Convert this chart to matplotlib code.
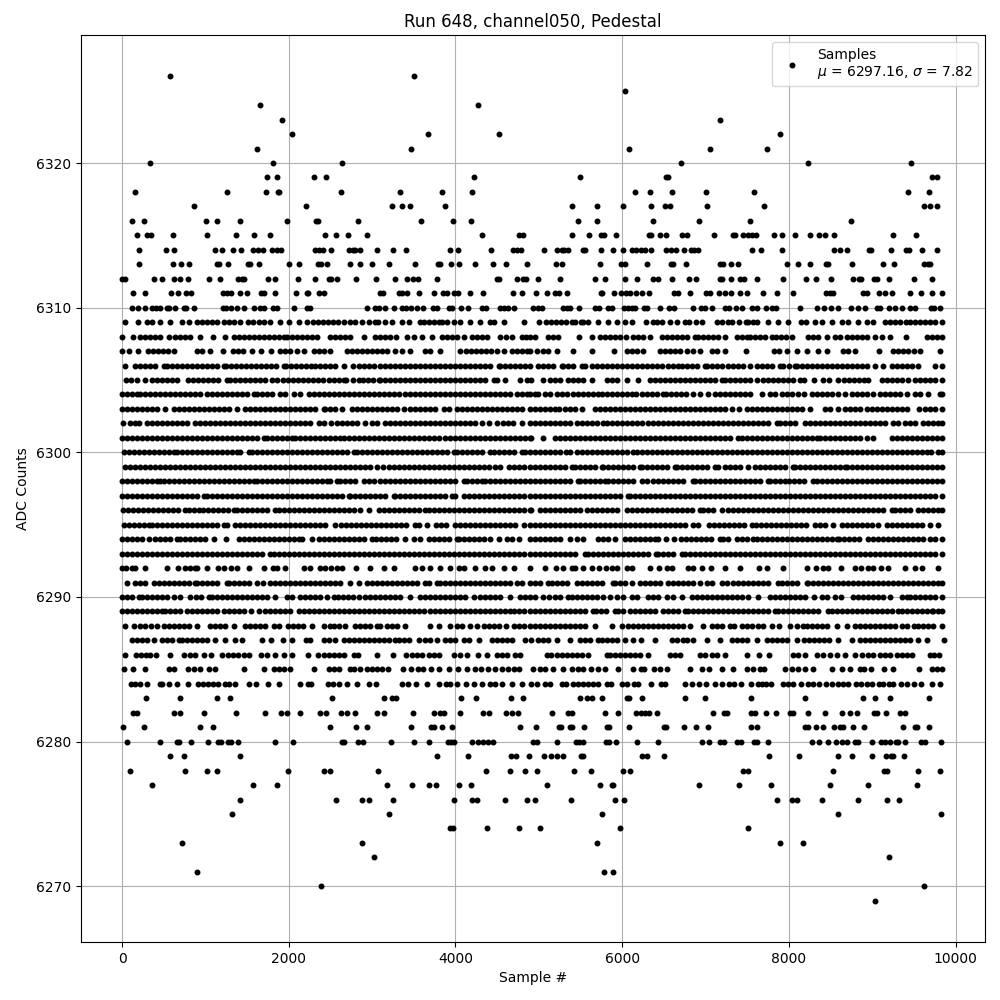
import matplotlib
matplotlib.use('Agg')
import matplotlib.pyplot as plt

# sample numbers seen at each ADC count
s6326 = [572, 3500]
s6325 = [6036]
s6324 = [1652, 4268]
s6323 = [1916, 7176]
s6322 = [2036, 3668, 4520, 7896]
s6321 = [1616, 3464, 6084, 7056, 7740]
s6320 = [332, 1808, 2636, 6708, 8232, 9468]
s6319 = [1736, 1856, 2300, 2444, 4220, 5496, 6528, 6552, 9720, 9780]
s6318 = [152, 1256, 1724, 1868, 1884, 2624, 3332, 3836, 4196, 6156, 6336, 6600, 7008, 7584, 9432, 9684]
s6317 = [860, 2204, 3236, 3356, 3452, 3872, 5400, 5700, 6012, 6348, 6516, 6576, 7020, 7704, 9624, 9696, 9780]
s6316 = [116, 260, 1004, 1136, 1412, 1976, 2324, 2348, 2828, 3584, 3968, 4184, 5472, 5700, 6372, 6924, 7536, 8748]
s6315 = [176, 296, 344, 608, 1016, 1364, 1580, 1772, 2432, 2564, 2708, 2936, 4316, 4760, 4808, 5400, 5604, 5748,
         5784, 5928, 6324, 6348, 6456, 6528, 6720, 6780, 7104, 7332, 7356, 7452, 7512, 7560, 7608, 7824, 7920, 8076,
         8256, 8364, 8432, 8544, 9252, 9528]
s6314 = [200, 524, 620, 1112, 1196, 1328, 1424, 1568, 1628, 1688, 1796, 1856, 1904, 2312, 2360, 2408, 2504, 2720,
         2768, 2792, 2852, 3056, 3248, 3404, 3932, 4028, 4424, 4688, 4736, 4784, 5064, 5220, 5280, 5304, 5352, 5532,
         5556, 5748, 5892, 6012, 6120, 6168, 6228, 6276, 6348, 6528, 6588, 6648, 6744, 6828, 6864, 6912, 7560, 7668,
         7920, 8544, 8616, 8700, 8964, 8988, 9228, 9408, 9444, 9600, 9780]
s6313 = [200, 608, 704, 800, 1136, 1160, 1268, 1508, 1532, 1640, 2000, 2120, 2348, 2384, 2456, 2732, 2852, 2996,
         3200, 3512, 3788, 3812, 3944, 4040, 4232, 4448, 4604, 4856, 5208, 5280, 5736, 5988, 6036, 6300, 6588, 6612,
         6768, 7176, 7212, 7308, 7392, 7980, 8112, 8256, 8448, 8472, 8760, 9132, 9264, 9624, 9672, 9696]
s6312 = [0, 36, 380, 476, 620, 692, 788, 1040, 1172, 1388, 1436, 1460, 1748, 1832, 2108, 2312, 2480, 2504, 2576,
         2804, 3044, 3272, 3416, 3488, 3548, 3776, 4496, 4520, 4736, 4808, 4844, 4992, 5256, 5676, 5796, 6036, 6180,
         6372, 6432, 6600, 6804, 6888, 7176, 7200, 7308, 7416, 7464, 7620, 7932, 8208, 8328, 8508, 8772, 8844, 8868,
         9024, 9060, 9204, 9504, 9720]
s6311 = [128, 272, 584, 668, 764, 824, 1208, 1256, 1304, 1412, 1496, 1664, 1700, 1832, 2084, 2216, 2228, 2360,
         2420, 3092, 3128, 3320, 3356, 3416, 3560, 3740, 3848, 3900, 3980, 4028, 4172, 4328, 4688, 4796, 4968, 5100,
         5196, 5244, 5340, 5748, 5760, 5904, 5988, 6048, 6096, 6168, 6240, 6324, 6624, 6672, 6816, 7008, 7056, 7164,
         7236, 7308, 7416, 7500, 7692, 7860, 8052, 8448, 8496, 8532, 8892, 8940, 9084, 9156, 9240, 9456, 9588, 9720,
         9840]
s6310 = [116, 188, 272, 356, 404, 452, 536, 560, 632, 740, 764, 860, 1208, 1244, 1304, 1376, 1460, 1580, 1652, 1700,
         1808, 1856, 2060, 2216, 2252, 2936, 3032, 3080, 3152, 3260, 3356, 3404, 3464, 3536, 3608, 3728, 3776, 3920,
         3956, 4064, 4148, 4316, 4364, 4532, 4580, 4628, 4700, 4932, 4992, 5040, 5292, 5340, 5376, 5484, 5676, 5724,
         5832, 5880, 6024, 6072, 6120, 6156, 6264, 6300, 6456, 6564, 6624, 6852, 6948, 6996, 7080, 7236, 7284, 7368,
         7440, 7560, 7620, 7728, 7800, 7848, 8136, 8340, 8424, 8508, 8592, 8748, 8832, 8916, 9060, 9096, 9204, 9276,
         9360, 9456, 9516, 9708, 9744, 9816]
s6309 = [40, 188, 300, 360, 460, 580, 720, 800, 900, 960, 1020, 1080, 1140, 1220, 1280, 1340, 1420, 1508, 1570, 1640,
         1700, 1780, 1900, 2004, 2120, 2220, 2288, 2350, 2410, 2470, 2530, 2590, 2660, 2740, 2800, 2880, 2960, 3040,
         3068, 3160, 3240, 3360, 3448, 3580, 3620, 3680, 3740, 3800, 3840, 3900, 3980, 4060, 4180, 4300, 4420, 4460,
         4580, 4820, 5000, 5080, 5140, 5200, 5260, 5320, 5392, 5432, 5500, 5532, 5592, 5704, 5832, 5932, 6032, 6112,
         6284, 6364, 6420, 6480, 6572, 6652, 6752, 6804, 6880, 6952, 7132, 7200, 7272, 7320, 7400, 7480, 7512, 7564,
         7612, 7752, 7872, 7992, 8140, 8200, 8312, 8392, 8512, 8632, 8712, 8832, 8932, 9012, 9152, 9210, 9270, 9330,
         9400, 9452, 9512, 9570, 9630, 9690, 9750, 9840]
s6308 = [0, 128, 220, 280, 340, 400, 460, 560, 640, 700, 760, 820, 940, 1088, 1240, 1340, 1400, 1460, 1520, 1580, 1640,
         1700, 1760, 1820, 1880, 1940, 1980, 2040, 2100, 2160, 2220, 2280, 2340, 2500, 2560, 2620, 2680, 2740, 2900,
         3040, 3100, 3160, 3220, 3292, 3420, 3500, 3600, 3720, 3840, 3900, 3960, 4020, 4100, 4200, 4260, 4320, 4380,
         4540, 4610, 4680, 4800, 4850, 4900, 4952, 5112, 5172, 5232, 5480, 5632, 5732, 5792, 5852, 5912, 5972, 6044,
         6132, 6192, 6252, 6332, 6472, 6532, 6592, 6652, 6712, 6772, 6872, 6912, 6972, 7032, 7092, 7152, 7232, 7380,
         7440, 7492, 7532, 7592, 7652, 7712, 7792, 7844, 7904, 7964, 8032, 8232, 8292, 8352, 8452, 8552, 8612, 8692,
         8752, 8812, 8872, 8932, 9032, 9112, 9212, 9400, 9652, 9712, 9772, 9840]
s6307 = [0, 80, 188, 308, 368, 428, 488, 548, 620, 900, 960, 1060, 1212, 1332, 1392, 1452, 1560, 1668, 1788, 1892,
         1952, 2012, 2100, 2180, 2308, 2368, 2428, 2500, 2700, 2760, 2820, 2880, 2940, 3000, 3060, 3120, 3180, 3280,
         3360, 3460, 3640, 3700, 3820, 4060, 4132, 4192, 4252, 4312, 4372, 4432, 4500, 4580, 4680, 4740, 4800, 4860,
         4900, 4980, 5052, 5112, 5212, 5412, 5640, 5904, 6052, 6112, 6172, 6252, 6452, 6512, 6572, 6632, 6692, 6772,
         6852, 6932, 7072, 7132, 7232, 7480, 7824, 7884, 7972, 8092, 8220, 8352, 8452, 8652, 8712, 8792, 9080, 9252,
         9312, 9372, 9432, 9500, 9572, 9812]
s6306 = [40, 160, 220, 280, 340, 400, 500, 540, 600, 660, 720, 780, 840, 900, 960, 1020, 1080, 1140, 1220, 1252, 1312,
         1372, 1432, 1492, 1552, 1612, 1672, 1732, 1792, 1852, 1940, 1972, 2032, 2092, 2152, 2212, 2272, 2320, 2380,
         2440, 2500, 2560, 2668, 2768, 2840, 2900, 2960, 3020, 3100, 3160, 3220, 3280, 3340, 3400, 3460, 3520, 3580,
         3640, 3700, 3760, 3820, 3880, 3940, 4000, 4060, 4120, 4180, 4240, 4300, 4360, 4420, 4520, 4540, 4600, 4660,
         4720, 4780, 4840, 4900, 4992, 5052, 5112, 5172, 5272, 5292, 5352, 5412, 5512, 5552, 5632, 5692, 5752, 5812,
         5872, 5932, 5992, 6052, 6112, 6172, 6232, 6292, 6352, 6412, 6472, 6552, 6612, 6672, 6712, 6772, 6832, 6892,
         6992, 7020, 7080, 7140, 7200, 7272, 7324, 7384, 7444, 7532, 7612, 7672, 7732, 7792, 7892, 7932, 8000, 8072,
         8092, 8152, 8212, 8272, 8332, 8392, 8452, 8512, 8572, 8632, 8692, 8752, 8812, 8872, 8932, 9032, 9132, 9232,
         9292, 9352, 9412, 9472, 9552, 9752, 9840]
s6305 = [52, 110, 180, 280, 360, 420, 480, 540, 600, 660, 788, 848, 908, 968, 1028, 1088, 1148, 1260, 1300, 1360, 1420,
         1480, 1540, 1600, 1660, 1720, 1800, 1860, 1928, 1988, 2048, 2108, 2168, 2228, 2288, 2348, 2408, 2480, 2540,
         2600, 2660, 2692, 2772, 2840, 2888, 2948, 3008, 3080, 3100, 3160, 3220, 3280, 3340, 3400, 3460, 3520, 3580,
         3640, 3700, 3760, 3820, 3880, 3940, 4000, 4060, 4120, 4180, 4240, 4300, 4360, 4460, 4500, 4600, 4772, 4860,
         4912, 5044, 5132, 5192, 5252, 5352, 5412, 5472, 5532, 5632, 5812, 5872, 5932, 6060, 6192, 6332, 6392, 6452,
         6512, 6572, 6632, 6692, 6752, 6812, 6872, 6932, 6992, 7052, 7112, 7192, 7232, 7292, 7352, 7412, 7472, 7532,
         7612, 7692, 7752, 7812, 7872, 7932, 7992, 8052, 8132, 8180, 8300, 8412, 8484, 8592, 8664, 8724, 8784, 8844,
         8904, 8952, 9112, 9172, 9232, 9292, 9352, 9432, 9512, 9572, 9632, 9692, 9752, 9832]
s6304 = [0, 60, 120, 180, 220, 280, 340, 400, 460, 520, 580, 640, 700, 760, 820, 880, 940, 1020, 1080, 1140, 1200, 1260,
         1320, 1380, 1440, 1500, 1580, 1620, 1680, 1740, 1800, 1900, 1960, 2060, 2140, 2240, 2300, 2360, 2420, 2480,
         2540, 2600, 2660, 2720, 2780, 2840, 2900, 2960, 3020, 3080, 3140, 3200, 3260, 3320, 3400, 3460, 3520, 3580,
         3640, 3700, 3760, 3820, 3880, 3940, 4000, 4060, 4120, 4180, 4240, 4300, 4360, 4420, 4480, 4540, 4600, 4660,
         4740, 4800, 4860, 4900, 4950, 4992, 5072, 5132, 5212, 5272, 5332, 5412, 5472, 5532, 5592, 5652, 5712, 5752,
         5812, 5872, 5932, 5992, 6052, 6112, 6164, 6232, 6292, 6352, 6412, 6492, 6524, 6584, 6644, 6704, 6764, 6852,
         6932, 7032, 7112, 7172, 7232, 7292, 7352, 7412, 7472, 7532, 7680, 7772, 7832, 7912, 7972, 8032, 8112, 8180,
         8272, 8332, 8392, 8452, 8512, 8592, 8672, 8752, 8812, 8872, 8932, 9012, 9092, 9152, 9212, 9272, 9332, 9412,
         9512, 9572, 9672, 9812, 9840]
s6303 = [0, 60, 120, 180, 240, 300, 360, 420, 520, 620, 680, 740, 800, 860, 920, 980, 1040, 1100, 1160, 1220, 1280,
         1380, 1480, 1540, 1600, 1660, 1720, 1780, 1840, 1900, 1960, 2020, 2080, 2140, 2200, 2260, 2320, 2420, 2440,
         2500, 2560, 2640, 2760, 2820, 2880, 2940, 3000, 3060, 3120, 3180, 3240, 3300, 3380, 3460, 3520, 3580, 3640,
         3700, 3760, 3860, 3920, 4020, 4080, 4140, 4200, 4260, 4320, 4380, 4440, 4500, 4560, 4620, 4680, 4740, 4800,
         4900, 4950, 5010, 5070, 5130, 5192, 5244, 5312, 5372, 5432, 5512, 5672, 5732, 5792, 5852, 5912, 5972, 6032,
         6092, 6152, 6212, 6272, 6332, 6392, 6452, 6512, 6572, 6632, 6692, 6752, 6812, 6872, 6932, 6992, 7052, 7112,
         7172, 7232, 7312, 7404, 7492, 7552, 7612, 7672, 7732, 7792, 7852, 7912, 7972, 8032, 8092, 8152, 8252, 8432,
         8492, 8592, 8672, 8732, 8792, 8852, 8932, 8992, 9052, 9112, 9172, 9232, 9292, 9352, 9412, 9564, 9632, 9692,
         9752, 9840]
s6302 = [12, 92, 150, 200, 300, 360, 420, 480, 540, 600, 660, 720, 780, 880, 940, 1000, 1060, 1120, 1180, 1240, 1300,
         1360, 1420, 1480, 1540, 1600, 1660, 1720, 1780, 1840, 1900, 1960, 2020, 2080, 2140, 2200, 2260, 2360, 2420,
         2508, 2580, 2640, 2700, 2760, 2820, 2920, 3000, 3060, 3160, 3220, 3280, 3340, 3400, 3460, 3520, 3580, 3640,
         3700, 3760, 3820, 3880, 3940, 4000, 4060, 4120, 4180, 4240, 4320, 4400, 4500, 4572, 4632, 4692, 4800, 4900,
         4950, 5010, 5070, 5130, 5190, 5250, 5310, 5370, 5452, 5512, 5572, 5632, 5692, 5772, 5812, 5872, 5932, 5992,
         6052, 6112, 6172, 6232, 6312, 6364, 6424, 6484, 6544, 6604, 6664, 6724, 6784, 6844, 6904, 6964, 7024, 7084,
         7144, 7204, 7264, 7324, 7384, 7444, 7504, 7564, 7624, 7684, 7744, 7852, 7892, 7952, 8012, 8072, 8192, 8252,
         8312, 8372, 8432, 8492, 8552, 8612, 8672, 8732, 8792, 8852, 8912, 8972, 9032, 9092, 9152, 9252, 9312, 9392,
         9452, 9512, 9612, 9672, 9732, 9792, 9840]
s6301 = [0, 60, 120, 180, 240, 300, 360, 420, 480, 540, 600, 660, 720, 780, 840, 900, 960, 1020, 1080, 1140, 1200, 1260,
         1320, 1380, 1440, 1500, 1560, 1620, 1700, 1740, 1800, 1860, 1920, 1980, 2040, 2080, 2140, 2200, 2260, 2320,
         2380, 2440, 2500, 2560, 2620, 2660, 2720, 2780, 2840, 2900, 2960, 3020, 3080, 3140, 3200, 3260, 3320, 3380,
         3440, 3500, 3560, 3620, 3680, 3740, 3800, 3872, 3940, 4000, 4060, 4120, 4180, 4240, 4300, 4360, 4420, 4480,
         4540, 4600, 4660, 4720, 4780, 4840, 4900, 4912, 5044, 5192, 5252, 5312, 5372, 5432, 5492, 5552, 5612, 5672,
         5732, 5792, 5852, 5912, 5972, 6032, 6092, 6152, 6212, 6272, 6332, 6392, 6452, 6512, 6572, 6632, 6692, 6752,
         6812, 6872, 6932, 6992, 7052, 7112, 7172, 7232, 7292, 7392, 7432, 7492, 7552, 7612, 7672, 7732, 7792, 7852,
         7912, 7972, 8032, 8092, 8152, 8212, 8272, 8332, 8372, 8432, 8492, 8552, 8612, 8672, 8732, 8792, 8852, 8932,
         9012, 9232, 9292, 9352, 9412, 9472, 9532, 9592, 9652, 9712, 9772, 9840]
s6300 = [20, 80, 140, 200, 260, 320, 380, 440, 500, 560, 620, 660, 720, 780, 840, 900, 960, 1020, 1080, 1140, 1200,
         1260, 1320, 1380, 1412, 1520, 1560, 1620, 1680, 1740, 1800, 1860, 1920, 1980, 2040, 2100, 2160, 2220, 2280,
         2340, 2400, 2460, 2520, 2580, 2640, 2700, 2780, 2820, 2880, 2940, 3000, 3060, 3120, 3180, 3240, 3300, 3360,
         3420, 3480, 3540, 3600, 3660, 3720, 3780, 3840, 3900, 3980, 4020, 4080, 4140, 4200, 4260, 4320, 4420, 4460,
         4520, 4580, 4640, 4700, 4800, 4840, 4892, 4952, 5012, 5072, 5132, 5192, 5252, 5324, 5372, 5452, 5512, 5572,
         5632, 5692, 5752, 5812, 5872, 5932, 5992, 6052, 6132, 6172, 6232, 6292, 6352, 6412, 6472, 6532, 6592, 6652,
         6712, 6772, 6832, 6892, 6952, 7012, 7072, 7132, 7192, 7252, 7312, 7372, 7432, 7492, 7552, 7612, 7672, 7732,
         7792, 7852, 7912, 7972, 8032, 8092, 8152, 8212, 8272, 8332, 8392, 8452, 8512, 8572, 8632, 8692, 8752, 8812,
         8872, 8932, 8992, 9052, 9112, 9172, 9232, 9292, 9352, 9412, 9472, 9532, 9592, 9652, 9700, 9792, 9840]
s6299 = [40, 100, 160, 220, 280, 340, 400, 460, 520, 580, 640, 700, 760, 820, 880, 940, 1000, 1060, 1120, 1180, 1240,
         1300, 1360, 1420, 1480, 1540, 1600, 1660, 1720, 1780, 1840, 1900, 1960, 2020, 2080, 2140, 2200, 2260, 2320,
         2380, 2440, 2500, 2560, 2620, 2680, 2740, 2800, 2860, 2920, 2980, 3060, 3132, 3200, 3260, 3320, 3380, 3440,
         3500, 3560, 3620, 3680, 3740, 3800, 3860, 3920, 3980, 4040, 4100, 4160, 4220, 4280, 4340, 4400, 4480, 4540,
         4640, 4700, 4760, 4820, 4892, 4952, 5012, 5072, 5132, 5192, 5252, 5312, 5392, 5432, 5492, 5552, 5612, 5672,
         5752, 5772, 5832, 5892, 5952, 6012, 6072, 6132, 6212, 6232, 6292, 6352, 6412, 6472, 6532, 6632, 6652, 6712,
         6772, 6832, 6892, 6952, 7012, 7112, 7152, 7232, 7292, 7352, 7412, 7512, 7592, 7652, 7712, 7772, 7832, 7892,
         7952, 8052, 8072, 8132, 8192, 8252, 8312, 8372, 8432, 8492, 8552, 8612, 8672, 8692, 8752, 8812, 8872, 8932,
         8992, 9052, 9112, 9172, 9232, 9292, 9352, 9412, 9472, 9532, 9592, 9652, 9712, 9772, 9840]
s6298 = [0, 60, 120, 180, 240, 300, 360, 420, 460, 500, 560, 620, 680, 740, 800, 860, 920, 980, 1040, 1100, 1160, 1220,
         1280, 1340, 1400, 1460, 1520, 1580, 1620, 1680, 1740, 1800, 1860, 1920, 1980, 2040, 2100, 2160, 2220, 2280,
         2340, 2400, 2460, 2500, 2580, 2620, 2680, 2740, 2800, 2900, 2960, 3020, 3092, 3160, 3220, 3280, 3340, 3400,
         3460, 3520, 3580, 3640, 3700, 3760, 3820, 3880, 3940, 4000, 4100, 4140, 4200, 4260, 4320, 4360, 4420, 4480,
         4540, 4600, 4660, 4720, 4780, 4840, 4900, 4952, 5012, 5072, 5132, 5192, 5252, 5312, 5372, 5472, 5492, 5552,
         5612, 5672, 5732, 5792, 5832, 5892, 5952, 6012, 6072, 6132, 6232, 6292, 6372, 6432, 6492, 6552, 6612, 6672,
         6732, 6852, 6872, 6932, 6992, 7052, 7112, 7172, 7232, 7292, 7352, 7412, 7472, 7532, 7592, 7652, 7752, 7772,
         7832, 7892, 7952, 8004, 8064, 8124, 8184, 8292, 8332, 8392, 8452, 8512, 8572, 8632, 8692, 8752, 8812, 8872,
         8932, 8992, 9052, 9112, 9172, 9232, 9292, 9352, 9412, 9472, 9532, 9592, 9652, 9712, 9772, 9840]
s6297 = [0, 60, 120, 180, 240, 300, 360, 420, 480, 540, 600, 660, 720, 780, 840, 900, 980, 1020, 1080, 1140, 1200, 1260,
         1320, 1380, 1440, 1500, 1560, 1620, 1680, 1740, 1800, 1860, 1920, 1980, 2040, 2100, 2160, 2220, 2280, 2340,
         2400, 2460, 2520, 2580, 2640, 2720, 2740, 2800, 2860, 2920, 2980, 3040, 3100, 3160, 3260, 3280, 3340, 3400,
         3460, 3520, 3580, 3640, 3700, 3760, 3820, 3880, 3960, 4000, 4100, 4160, 4220, 4280, 4340, 4400, 4460, 4520,
         4580, 4640, 4700, 4760, 4820, 4892, 4952, 5012, 5072, 5132, 5192, 5252, 5312, 5372, 5432, 5492, 5552, 5612,
         5672, 5732, 5792, 5852, 5912, 5972, 6072, 6092, 6152, 6212, 6272, 6332, 6392, 6452, 6512, 6572, 6632, 6692,
         6752, 6812, 6872, 6932, 6992, 7052, 7112, 7172, 7232, 7292, 7352, 7412, 7472, 7532, 7592, 7652, 7712, 7772,
         7832, 7892, 7952, 8012, 8072, 8132, 8192, 8252, 8312, 8372, 8432, 8492, 8552, 8612, 8672, 8732, 8792, 8852,
         8912, 8972, 9032, 9092, 9152, 9212, 9272, 9332, 9392, 9452, 9512, 9572, 9632, 9692, 9752, 9840]
s6296 = [12, 72, 132, 192, 252, 312, 372, 432, 492, 552, 612, 672, 760, 800, 860, 920, 972, 1032, 1092, 1152, 1212,
         1272, 1340, 1380, 1440, 1500, 1560, 1620, 1680, 1740, 1840, 1880, 1940, 2000, 2060, 2120, 2180, 2240, 2300,
         2360, 2420, 2480, 2540, 2600, 2660, 2720, 2780, 2860, 2968, 3080, 3140, 3200, 3260, 3320, 3380, 3440, 3500,
         3560, 3640, 3680, 3740, 3800, 3860, 3920, 3980, 4040, 4100, 4160, 4220, 4280, 4340, 4400, 4460, 4520, 4580,
         4640, 4700, 4760, 4820, 4900, 4912, 5012, 5072, 5132, 5192, 5252, 5312, 5372, 5432, 5492, 5572, 5632, 5692,
         5752, 5812, 5872, 5940, 6052, 6112, 6172, 6232, 6292, 6352, 6412, 6472, 6532, 6592, 6652, 6712, 6772, 6832,
         6932, 6972, 7032, 7092, 7192, 7272, 7332, 7392, 7452, 7512, 7572, 7632, 7692, 7752, 7812, 7872, 7932, 7992,
         8052, 8112, 8172, 8232, 8292, 8352, 8412, 8472, 8532, 8592, 8652, 8712, 8772, 8832, 8892, 8952, 9012, 9072,
         9132, 9232, 9272, 9332, 9392, 9452, 9552, 9612, 9672, 9732, 9792, 9840]
s6295 = [20, 80, 140, 200, 260, 320, 360, 420, 480, 540, 600, 660, 720, 780, 840, 900, 960, 1020, 1080, 1140, 1220,
         1260, 1360, 1412, 1472, 1532, 1592, 1660, 1720, 1780, 1840, 1900, 1960, 2020, 2080, 2140, 2200, 2260, 2320,
         2380, 2440, 2560, 2628, 2688, 2748, 2808, 2868, 2928, 2988, 3048, 3108, 3168, 3228, 3288, 3348, 3408, 3520,
         3560, 3660, 3772, 3832, 3892, 4000, 4052, 4112, 4172, 4232, 4292, 4352, 4412, 4472, 4532, 4592, 4652, 4712,
         4820, 4892, 4952, 5012, 5072, 5132, 5192, 5252, 5312, 5372, 5432, 5492, 5552, 5612, 5672, 5732, 5792, 5852,
         5912, 5972, 6032, 6092, 6152, 6212, 6272, 6332, 6392, 6452, 6512, 6572, 6632, 6692, 6752, 6852, 6912, 7040,
         7100, 7160, 7220, 7280, 7340, 7400, 7460, 7552, 7600, 7660, 7720, 7780, 7840, 7900, 7960, 8020, 8080, 8140,
         8200, 8312, 8372, 8432, 8532, 8632, 8692, 8752, 8812, 8872, 8932, 8992, 9072, 9172, 9232, 9292, 9352, 9412,
         9472, 9532, 9592, 9692, 9792]
s6294 = [0, 60, 120, 180, 240, 320, 400, 460, 520, 580, 660, 700, 760, 820, 880, 940, 1000, 1100, 1248, 1400, 1460,
         1520, 1580, 1640, 1700, 1760, 1820, 1880, 1940, 2000, 2060, 2120, 2160, 2280, 2360, 2420, 2480, 2540, 2600,
         2660, 2720, 2780, 2840, 2900, 3000, 3048, 3108, 3168, 3228, 3288, 3400, 3500, 3580, 3680, 3740, 3800, 3860,
         3920, 4020, 4040, 4100, 4160, 4220, 4280, 4340, 4420, 4520, 4620, 4680, 4760, 4892, 4952, 5012, 5072, 5132,
         5192, 5252, 5372, 5452, 5532, 5712, 5772, 5832, 5912, 6032, 6092, 6152, 6212, 6272, 6332, 6392, 6432, 6524,
         6624, 6700, 6760, 6820, 6880, 6940, 7000, 7060, 7172, 7212, 7272, 7380, 7432, 7492, 7572, 7612, 7672, 7732,
         7792, 7852, 7912, 7972, 8032, 8092, 8152, 8212, 8272, 8332, 8392, 8452, 8512, 8572, 8600, 8660, 8720, 8780,
         8840, 8952, 9012, 9072, 9132, 9192, 9252, 9312, 9372, 9432, 9492, 9552, 9612, 9692, 9752, 9840]
s6293 = [0, 60, 120, 180, 240, 300, 360, 420, 480, 540, 600, 660, 720, 780, 840, 900, 960, 1020, 1080, 1140, 1200, 1260,
         1320, 1380, 1440, 1500, 1560, 1620, 1680, 1780, 1820, 1880, 1940, 2000, 2060, 2120, 2180, 2240, 2300, 2360,
         2420, 2480, 2540, 2600, 2660, 2720, 2780, 2840, 2900, 2960, 3020, 3080, 3140, 3200, 3260, 3320, 3380, 3440,
         3500, 3560, 3620, 3680, 3740, 3800, 3860, 3920, 3980, 4040, 4100, 4160, 4220, 4280, 4340, 4400, 4460, 4520,
         4580, 4640, 4700, 4760, 4820, 4892, 4952, 5012, 5072, 5132, 5192, 5252, 5312, 5372, 5432, 5552, 5592, 5652,
         5712, 5772, 5832, 5892, 5952, 6012, 6072, 6132, 6192, 6252, 6312, 6404, 6432, 6492, 6552, 6612, 6712, 6752,
         6812, 6872, 6932, 6992, 7052, 7112, 7172, 7232, 7292, 7352, 7412, 7472, 7532, 7592, 7652, 7712, 7772, 7832,
         7892, 7952, 8012, 8072, 8132, 8192, 8252, 8312, 8372, 8432, 8492, 8552, 8612, 8672, 8732, 8792, 8852, 8912,
         8972, 9032, 9092, 9152, 9212, 9272, 9332, 9392, 9452, 9512, 9572, 9632, 9692, 9752, 9840]
s6292 = [0, 50, 120, 160, 272, 540, 672, 760, 820, 880, 900, 1020, 1148, 1220, 1308, 1380, 1520, 1700, 1812, 1860,
         1960, 2180, 2252, 2372, 2440, 2508, 2580, 2640, 2808, 2972, 3140, 3260, 3520, 3600, 3700, 3820, 3940, 4040,
         4100, 4240, 4360, 4440, 4580, 4700, 4892, 5072, 5200, 5292, 5392, 5432, 5524, 5640, 5720, 5800, 5872, 5932,
         6052, 6120, 6332, 6440, 6532, 6592, 6784, 6852, 6952, 7060, 7232, 7412, 7644, 7740, 7932, 8212, 8324, 8412,
         8472, 8624, 8792, 8870, 8952, 9012, 9100, 9192, 9392, 9512, 9592, 9792]
s6291 = [60, 160, 220, 280, 380, 440, 500, 560, 620, 680, 740, 800, 880, 900, 960, 1020, 1080, 1140, 1260, 1280, 1340,
         1400, 1460, 1520, 1620, 1692, 1780, 1840, 1900, 1960, 2020, 2080, 2140, 2200, 2260, 2320, 2380, 2440, 2500,
         2560, 2620, 2740, 2840, 2940, 3000, 3060, 3120, 3180, 3240, 3300, 3360, 3420, 3480, 3540, 3640, 3680, 3780,
         3820, 3880, 3940, 4000, 4060, 4120, 4180, 4240, 4300, 4360, 4420, 4480, 4540, 4600, 4660, 4740, 4800, 4900,
         4952, 5012, 5112, 5152, 5212, 5272, 5332, 5452, 5512, 5572, 5632, 5692, 5752, 5892, 5912, 5972, 6032, 6112,
         6212, 6272, 6332, 6392, 6452, 6552, 6604, 6664, 6724, 6784, 6844, 6932, 7012, 7072, 7192, 7252, 7332, 7392,
         7452, 7512, 7572, 7632, 7692, 7752, 7872, 7912, 7972, 8032, 8092, 8212, 8232, 8292, 8352, 8412, 8472, 8532,
         8592, 8652, 8712, 8772, 8832, 8892, 8952, 9012, 9072, 9132, 9192, 9252, 9312, 9372, 9432, 9492, 9552, 9612,
         9672, 9732, 9792, 9840]
s6290 = [0, 60, 120, 200, 240, 300, 360, 420, 480, 540, 620, 700, 820, 892, 952, 1040, 1080, 1140, 1200, 1260, 1320,
         1380, 1440, 1500, 1560, 1620, 1680, 1740, 1840, 1980, 2040, 2140, 2192, 2252, 2312, 2380, 2460, 2540, 2588,
         2648, 2708, 2768, 2840, 2920, 2980, 3040, 3100, 3160, 3220, 3280, 3340, 3460, 3580, 3640, 3700, 3760, 3820,
         3880, 3940, 4000, 4060, 4120, 4220, 4292, 4360, 4420, 4480, 4540, 4660, 4780, 4840, 4892, 4952, 5052, 5124,
         5192, 5252, 5352, 5392, 5452, 5512, 5572, 5632, 5692, 5772, 5852, 5940, 6012, 6112, 6172, 6312, 6372, 6432,
         6532, 6612, 6712, 6832, 6892, 6952, 7012, 7072, 7132, 7192, 7252, 7312, 7372, 7432, 7512, 7632, 7772, 7832,
         7892, 7952, 8012, 8072, 8132, 8192, 8304, 8392, 8452, 8552, 8620, 8764, 8832, 8892, 8952, 9012, 9072, 9132,
         9212, 9352, 9412, 9452, 9512, 9572, 9632, 9692, 9752, 9840]
s6289 = [0, 60, 120, 180, 240, 300, 360, 420, 480, 520, 580, 640, 700, 780, 840, 900, 960, 1020, 1080, 1140, 1220, 1280,
         1340, 1400, 1460, 1548, 1640, 1720, 1780, 1840, 1900, 1960, 2020, 2120, 2180, 2240, 2300, 2360, 2420, 2480,
         2540, 2600, 2660, 2720, 2780, 2840, 2900, 2960, 3020, 3080, 3140, 3200, 3260, 3320, 3380, 3440, 3500, 3560,
         3620, 3700, 3760, 3820, 3880, 3940, 4000, 4060, 4120, 4180, 4240, 4300, 4360, 4420, 4480, 4540, 4600, 4660,
         4700, 4760, 4820, 4900, 4952, 5012, 5072, 5132, 5192, 5252, 5312, 5372, 5432, 5492, 5552, 5652, 5680, 5740,
         5800, 5912, 5952, 6012, 6092, 6152, 6212, 6272, 6332, 6392, 6492, 6552, 6612, 6672, 6752, 6792, 6852, 6912,
         6972, 7032, 7092, 7152, 7212, 7272, 7332, 7392, 7452, 7512, 7572, 7632, 7692, 7752, 7832, 7872, 7932, 7992,
         8052, 8112, 8172, 8232, 8292, 8352, 8472, 8512, 8572, 8632, 8692, 8752, 8812, 8872, 8932, 8992, 9052, 9112,
         9172, 9232, 9312, 9352, 9412, 9472, 9532, 9592, 9652, 9712, 9732, 9792, 9840]
s6288 = [40, 140, 220, 280, 350, 420, 500, 560, 620, 680, 740, 800, 900, 1060, 1120, 1180, 1240, 1340, 1480, 1540,
         1600, 1660, 1720, 1820, 1880, 1992, 2052, 2112, 2172, 2280, 2420, 2500, 2540, 2600, 2680, 2800, 2860, 2920,
         2980, 3060, 3100, 3180, 3240, 3300, 3400, 3700, 3800, 3940, 4020, 4080, 4180, 4260, 4340, 4400, 4460, 4520,
         4608, 4700, 4760, 4820, 4900, 4952, 5012, 5072, 5132, 5192, 5252, 5312, 5372, 5432, 5492, 5552, 5672, 5872,
         5992, 6072, 6132, 6192, 6252, 6312, 6372, 6432, 6492, 6552, 6612, 6672, 6732, 6812, 6972, 7072, 7132, 7192,
         7292, 7344, 7432, 7492, 7552, 7632, 7692, 7792, 7880, 8012, 8092, 8172, 8212, 8272, 8332, 8392, 8452, 8572,
         8692, 8792, 8852, 8912, 8972, 9032, 9092, 9152, 9212, 9272, 9352, 9412, 9500, 9552, 9612, 9672, 9732, 9832]
s6287 = [120, 180, 240, 300, 380, 480, 540, 600, 680, 720, 780, 840, 900, 960, 1020, 1120, 1240, 1360, 1440, 1680, 1788,
         1932, 2044, 2208, 2260, 2420, 2480, 2560, 2660, 2720, 2780, 2840, 2900, 2960, 3020, 3080, 3140, 3200, 3280,
         3320, 3380, 3440, 3560, 3640, 3700, 3780, 3880, 3940, 4000, 4108, 4168, 4280, 4440, 4500, 4560, 4620, 4680,
         4840, 4912, 4992, 5052, 5112, 5212, 5372, 5492, 5552, 5612, 5712, 5752, 5812, 5872, 5932, 6032, 6132, 6224,
         6392, 6592, 6652, 6732, 6772, 6844, 7012, 7172, 7312, 7372, 7432, 7492, 7612, 7732, 7792, 7852, 7912, 7972,
         8092, 8180, 8240, 8300, 8360, 8420, 8480, 8592, 8752, 8852, 8912, 8972, 9032, 9092, 9152, 9212, 9272, 9332,
         9392, 9452, 9552, 9660, 9860]
s6286 = [32, 172, 224, 284, 340, 412, 572, 740, 812, 872, 980, 1064, 1196, 1268, 1328, 1388, 1460, 1520, 1664, 1736,
         1832, 1940, 2036, 2228, 2348, 2420, 2480, 2540, 2600, 2660, 2780, 2828, 3056, 3248, 3412, 3476, 3536, 3596,
         3680, 3740, 3800, 3980, 4052, 4136, 4268, 4376, 4496, 4556, 4616, 4712, 4780, 5092, 5140, 5212, 5272, 5332,
         5392, 5452, 5512, 5592, 5812, 5852, 5912, 5972, 6032, 6092, 6152, 6212, 6312, 6572, 6632, 6692, 6932, 6992,
         7072, 7132, 7232, 7492, 7644, 7764, 8052, 8112, 8192, 8332, 8412, 8492, 8572, 8672, 8792, 8872, 8952, 9012,
         9092, 9152, 9212, 9292, 9352, 9412, 9480, 9692, 9740, 9804]
s6285 = [20, 128, 272, 560, 620, 788, 860, 932, 1040, 1112, 1460, 1700, 1820, 1880, 1940, 2012, 2300, 2480, 2540, 2600,
         2732, 2780, 2852, 2936, 2996, 3056, 3116, 3188, 3368, 3464, 3548, 3608, 3704, 3800, 3920, 4028, 4136, 4232,
         4304, 4388, 4472, 4556, 4628, 4700, 4760, 4932, 5012, 5072, 5164, 5292, 5392, 5472, 5532, 5624, 5712, 5792,
         5952, 6132, 6224, 6264, 6384, 6452, 6540, 6812, 6952, 7044, 7200, 7332, 7492, 7572, 7652, 7704, 7952, 8032,
         8112, 8192, 8292, 8512, 8632, 8732, 8852, 8904, 8988, 9144, 9252, 9564, 9712, 9780, 9840]
s6284 = [112, 152, 212, 296, 452, 476, 560, 656, 788, 908, 968, 1028, 1088, 1148, 1232, 1280, 1352, 1520, 1604, 1748,
         1880, 2132, 2228, 2264, 2468, 2528, 2600, 2696, 2820, 2960, 3044, 3356, 3428, 3524, 3656, 3800, 3884, 3932,
         4020, 4124, 4220, 4316, 4412, 4472, 4556, 4676, 4796, 4904, 4972, 5072, 5132, 5272, 5324, 5412, 5464, 5532,
         5592, 5652, 5712, 5812, 5864, 5992, 6060, 6140, 6184, 6348, 6460, 6512, 6752, 6832, 6924, 7004, 7116, 7192,
         7280, 7340, 7424, 7548, 7624, 7680, 7724, 7788, 7932, 7992, 8052, 8140, 8224, 8292, 8364, 8444, 8512, 8592,
         8652, 8712, 8800, 8860, 8932, 8992, 9080, 9132, 9204, 9252, 9340, 9412, 9500, 9580, 9720, 9812]
s6283 = [284, 692, 1136, 1292, 2516, 3140, 3236, 3284, 4064, 4244, 4664, 4808, 5496, 5580, 5640, 5760, 6060, 6084,
         6240, 6756, 6996, 7548, 8196, 8892, 9036, 9216, 9684]
s6282 = [128, 176, 620, 692, 980, 1364, 1712, 1904, 1976, 2132, 2372, 2444, 2624, 2696, 2792, 3056, 3140, 3488, 3740,
         3812, 3860, 4052, 4328, 4400, 4604, 4676, 4748, 5160, 5352, 5400, 5796, 5952, 6168, 6228, 6276, 6324, 6420,
         7092, 7224, 7260, 7548, 7596, 7728, 7848, 8016, 8052, 8232, 8436, 8640, 8736, 8820, 9024, 9060, 9168, 9336,
         9396]
s6281 = [8, 260, 932, 1088, 2492, 2804, 2936, 3464, 3704, 3740, 3836, 3956, 4772, 4964, 5244, 5268, 5376, 5400, 5544,
         5820, 5844, 6084, 6504, 6528, 6744, 6888, 7032, 7548, 7620, 8196, 8232, 8328, 8412, 8544, 8616, 8652, 8772,
         8904, 9372, 9516, 9540, 9680]
s6280 = [56, 452, 656, 680, 824, 1028, 1148, 1184, 1268, 1304, 1388, 1832, 2048, 2636, 2660, 2828, 2888, 3224, 3500,
         3680, 3908, 3944, 3980, 4196, 4268, 4328, 4388, 4448, 4928, 4976, 5220, 5448, 5484, 5532, 5808, 5844, 5928,
         6180, 6432, 6960, 7044, 7176, 7224, 7380, 7428, 7584, 7620, 7752, 8280, 8364, 8472, 8568, 8640, 8700, 8796,
         8832, 9000, 9108, 9156, 9216, 9288, 9312, 9396, 9588, 9636, 9828]
s6279 = [572, 740, 1412, 3776, 4148, 4664, 4724, 4880, 5064, 5148, 5220, 5292, 5508, 5532, 6240, 6300, 6504, 7764,
         8124, 8592, 8760, 9000, 9168, 9228, 9252, 9384]
s6278 = [92, 752, 1016, 1136, 1988, 2420, 2492, 3068, 4364, 4652, 4832, 4976, 5424, 5628, 6012, 6096, 7452, 7512,
         8532, 9144, 9180, 9552, 9816]
s6277 = [356, 1568, 1856, 3176, 3476, 3680, 3764, 4040, 4184, 5100, 5736, 5880, 5892, 6924, 7404, 7788, 8496, 8952,
         9540]
s6276 = [1412, 2564, 2876, 2960, 3248, 3980, 4196, 4256, 4592, 4856, 4952, 5388, 5916, 6024, 7860, 8040, 8100, 8400,
         8832, 9180, 9324]
s6275 = [1316, 3200, 5760, 8592, 9828]
s6274 = [3932, 3968, 4376, 4760, 5016, 5976, 7512]
s6273 = [716, 2876, 5700, 7896, 8172]
s6272 = [3020, 9204]
s6271 = [896, 5784, 5892]
s6270 = [2384, 9624]
s6269 = [9036]

levels = [6326, 6325, 6324, 6323, 6322, 6321, 6320, 6319, 6318, 6317, 6316, 6315, 6314, 6313, 6312, 6311, 6310,
          6309, 6308, 6307, 6306, 6305, 6304, 6303, 6302, 6301, 6300, 6299, 6298, 6297, 6296, 6295, 6294, 6293,
          6292, 6291, 6290, 6289, 6288, 6287, 6286, 6285, 6284, 6283, 6282, 6281, 6280, 6279, 6278, 6277, 6276,
          6275, 6274, 6273, 6272, 6271, 6270, 6269]
rows = [s6326, s6325, s6324, s6323, s6322, s6321, s6320, s6319, s6318, s6317, s6316, s6315, s6314, s6313, s6312,
        s6311, s6310, s6309, s6308, s6307, s6306, s6305, s6304, s6303, s6302, s6301, s6300, s6299, s6298, s6297,
        s6296, s6295, s6294, s6293, s6292, s6291, s6290, s6289, s6288, s6287, s6286, s6285, s6284, s6283, s6282,
        s6281, s6280, s6279, s6278, s6277, s6276, s6275, s6274, s6273, s6272, s6271, s6270, s6269]

x = []
y = []
for level, row in zip(levels, rows):
    x.extend(row)
    y.extend([level] * len(row))

fig, ax = plt.subplots(figsize=(10, 10))
ax.plot(x, y, 'k.', markersize=6.5, label='Samples\n$\\mu$ = 6297.16, $\\sigma$ = 7.82')
ax.set_xlabel('Sample #')
ax.set_ylabel('ADC Counts')
ax.set_title('Run 648, channel050, Pedestal')
ax.grid(True)
ax.legend(loc='upper right')
fig.subplots_adjust(left=0.081, right=0.985, top=0.965, bottom=0.058)
fig.savefig('out.png', dpi=100)
